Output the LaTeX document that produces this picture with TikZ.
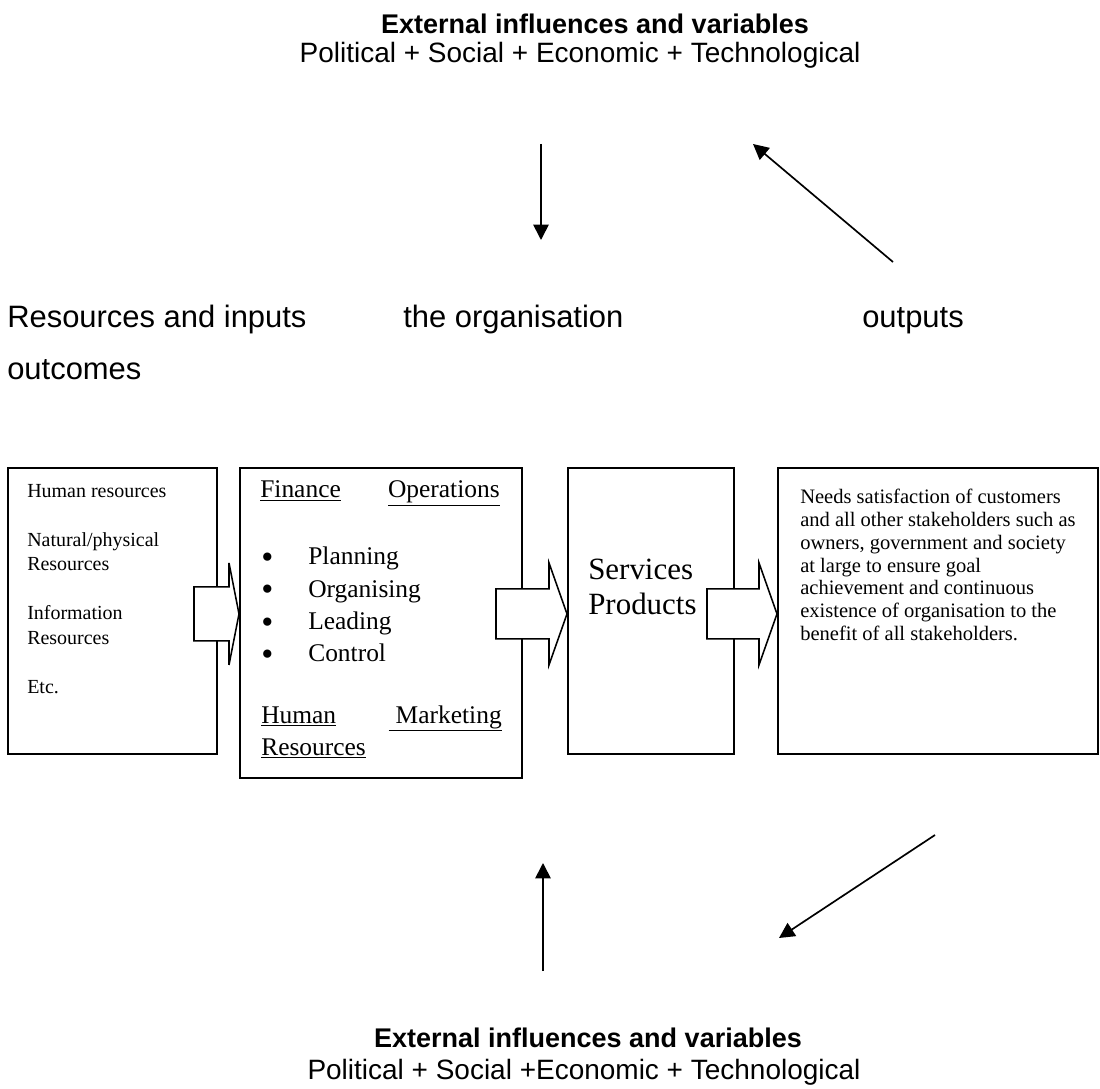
\documentclass[tikz,border=0pt]{standalone}
\usepackage{fontspec}
\setmainfont{Liberation Serif}
\newfontfamily\arialfont{Liberation Sans}
\usetikzlibrary{arrows.meta}
\usetikzlibrary{positioning}
\newlength\pxu
\setlength\pxu{0.025cm}
\newcommand\orgbullet{\makebox[47\pxu][l]{\raisebox{-0.3ex}{\scalebox{1.35}{\textbullet}}}}

\begin{document}
\begin{tikzpicture}[
  x=0.025cm, y=-0.025cm,
  panel/.style={draw, line width=1.3pt, inner sep=0pt, anchor=north west},
  thin arrow/.style={line width=1.2pt, -{Triangle[length=11pt,width=11pt]}},
  block arrow/.style={draw, fill=white, line width=1.1pt, line join=miter},
  headline/.style={font=\arialfont\bfseries\fontsize{19.2}{22}\selectfont, inner sep=0pt, anchor=base},
  subline/.style={font=\arialfont\fontsize{19.9}{22}\selectfont, inner sep=0pt, anchor=base},
  rowtext/.style={font=\arialfont\fontsize{22}{26}\selectfont, inner sep=0pt, anchor=base west},
  boxtext/.style={font=\fontsize{14.2}{17.4}\selectfont, inner sep=0pt, anchor=north west, align=left},
  needtext/.style={font=\fontsize{14.6}{16.2}\selectfont, inner sep=0pt, anchor=north west, align=left},
  orgtext/.style={font=\fontsize{18.1}{23}\selectfont, inner sep=0pt},
  prodtext/.style={font=\fontsize{22}{24.9}\selectfont, inner sep=0pt, anchor=north west, align=left}]
\useasboundingbox (0,0) rectangle (1100,1089);

% titles
\node[headline] (exttop) at (595,34) {External influences and variables};
\node[subline] (pestop) at (580,63) {Political + Social + Economic + Technological};
\node[headline] (extbot) at (588,1047) {External influences and variables};
\node[subline] (pesbot) at (584,1079) {Political + Social +Economic + Technological};

% row of labels
\node[rowtext] (res) at (7,328) {Resources and inputs};
\node[rowtext] (orgl) at (403,328) {the organisation};
\node[rowtext] (outp) at (862,328) {outputs};
\node[rowtext] (outc) at (7,380) {outcomes};

% boxes
\node[panel, minimum width=209\pxu, minimum height=286\pxu] (inp) at (7,467) {};
\node[panel, minimum width=282\pxu, minimum height=310\pxu] (org) at (239,467) {};
\node[panel, minimum width=166\pxu, minimum height=286\pxu] (srv) at (567,467) {};
\node[panel, minimum width=320\pxu, minimum height=286\pxu] (out) at (777,467) {};

\node[boxtext] (inptext) at (27,484) {Human resources\\[24.5\pxu]Natural/physical\\Resources\\[24.5\pxu]Information\\Resources\\[24.5\pxu]Etc.};

\node[orgtext, anchor=base west] (fin) at (260,498) {\underline{Finance}};
\node[orgtext, anchor=base east] (ops) at (500,498) {\underline{Operations}};
\node[orgtext, anchor=north west, align=left] (tasks) at (261,547)
  {\orgbullet Planning\\\orgbullet Organising\\\orgbullet Leading\\\orgbullet Control};
\node[orgtext, anchor=base west] (hum) at (261,723) {\underline{Human}};
\node[orgtext, anchor=base east] (mkt) at (502,723) {\underline{\hspace{7\pxu}Marketing}};
\node[orgtext, anchor=base west] (hres) at (261,755) {\underline{Resources}};

\node[prodtext] (prod) at (588,559) {Services\\Products};

\node[needtext] (needs) at (800,489) {Needs satisfaction of customers\\and all other stakeholders such as\\owners, government and society\\at large to ensure goal\\achievement and continuous\\existence of organisation to the\\benefit of all stakeholders.};

% block arrows between boxes
\coordinate (mid) at ([yshift=-3\pxu]inp.east);
\coordinate (tip1) at (org.west |- mid);
\coordinate (tip2) at (srv.west |- mid);
\coordinate (tip3) at (out.west |- mid);
\draw[block arrow] (tip1) -- ++(-10,-51) -- ++(0,24) -- ++(-35,0) -- ++(0,54) -- ++(35,0) -- ++(0,24) -- cycle;
\draw[block arrow] (tip2) -- ++(-18,-51) -- ++(0,26) -- ++(-53,0) -- ++(0,50) -- ++(53,0) -- ++(0,26) -- cycle;
\draw[block arrow] (tip3) -- ++(-18,-51) -- ++(0,26) -- ++(-52,0) -- ++(0,50) -- ++(52,0) -- ++(0,26) -- cycle;

% influence arrows
\coordinate (topdn1) at (541,144);
\coordinate (topdn2) at (541,240);
\coordinate (topup1) at (893,262);
\coordinate (topup2) at (753,144);
\coordinate (botup1) at (543,971);
\coordinate (botup2) at (543,863);
\coordinate (botdn1) at (935,835);
\coordinate (botdn2) at (779,938);
\draw[thin arrow] (topdn1) -- (topdn2);
\draw[thin arrow] (topup1) -- (topup2);
\draw[thin arrow] (botup1) -- (botup2);
\draw[thin arrow] (botdn1) -- (botdn2);
\end{tikzpicture}
\end{document}
